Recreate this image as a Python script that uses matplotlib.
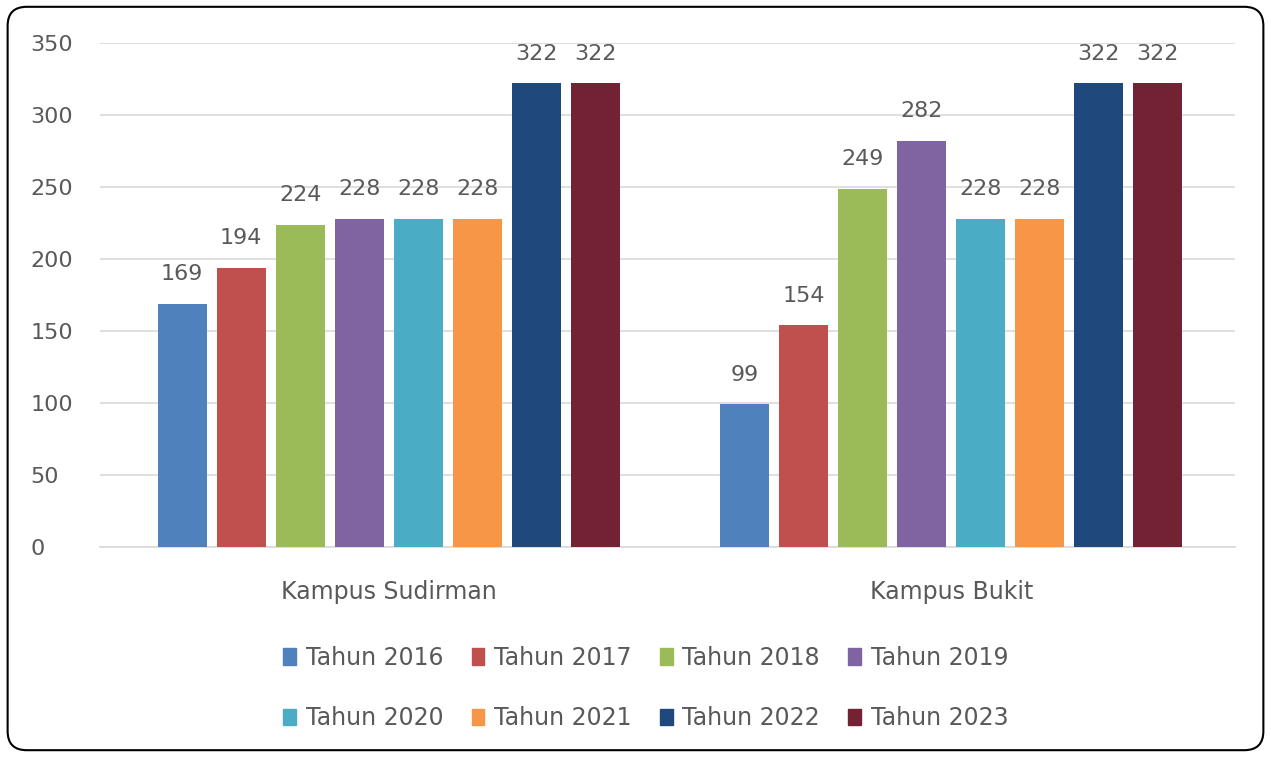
import matplotlib.pyplot as plt
from matplotlib.patches import FancyBboxPatch, Patch
import numpy as np

plt.rcParams['font.family'] = ['DejaVu Sans']

categories = ['Kampus Sudirman', 'Kampus Bukit']
series = ['Tahun 2016', 'Tahun 2017', 'Tahun 2018', 'Tahun 2019',
          'Tahun 2020', 'Tahun 2021', 'Tahun 2022', 'Tahun 2023']
sudirman = [169, 194, 224, 228, 228, 228, 322, 322]
bukit = [99, 154, 249, 282, 228, 228, 322, 322]
colors = ['#4F81BD', '#C0504D', '#9BBB59', '#8064A2',
          '#4BACC6', '#F79646', '#1F497D', '#722232']
yticks = [0, 50, 100, 150, 200, 250, 300, 350]

txt = '#595959'
fs = 16
fig = plt.figure(figsize=(12.71, 7.57), dpi=100)
ax = fig.add_axes([0.0787, 0.2774, 0.8933, 0.6656])

x = np.arange(len(categories))
step = 0.1049
width = 0.0871
for i, name in enumerate(series):
    vals = [sudirman[i], bukit[i]]
    pos = x + (i - 3.5) * step
    ax.bar(pos, vals, width=width, color=colors[i], zorder=3)
    for p, v in zip(pos, vals):
        ax.annotate(str(v), (p, v), xytext=(0, 17), textcoords='offset points',
                    ha='center', va='baseline', fontsize=fs, color=txt)

ax.set_xlim(-0.513, 1.505)
ax.set_ylim(0, 350)
ax.set_yticks(yticks)
ax.set_xticks(x)
ax.set_xticklabels(categories)
ax.tick_params(axis='both', length=0, labelsize=fs, colors=txt)
ax.tick_params(axis='x', pad=24, labelsize=17)
ax.tick_params(axis='y', pad=50)
for lab in ax.get_yticklabels():
    lab.set_horizontalalignment('left')
ax.grid(axis='y', color='#D9D9D9', linewidth=1.2, zorder=0)
for s in ['top', 'right', 'left']:
    ax.spines[s].set_visible(False)
ax.spines['bottom'].set_color('#D9D9D9')
ax.spines['bottom'].set_linewidth(1.2)

# legend fills column by column, so interleave to get two rows of four
handles = [Patch(color=c, label=s) for c, s in zip(colors, series)]
order = [0, 4, 1, 5, 2, 6, 3, 7]
handles = [handles[k] for k in order]
fig.legend(handles=handles, loc='center', bbox_to_anchor=(0.508, 0.091), ncol=4,
           frameon=False, fontsize=17, labelcolor=txt, handlelength=0.55,
           handleheight=0.7, handletextpad=0.4, columnspacing=1.2, labelspacing=1.55)

border = FancyBboxPatch((0.006, 0.009), 0.988, 0.982, boxstyle='round,pad=0,rounding_size=0.015',
                        transform=fig.transFigure, facecolor='none', edgecolor='black',
                        linewidth=1.5, mutation_aspect=1271 / 757)
fig.patches.append(border)

fig.savefig('out.png', dpi=100)
